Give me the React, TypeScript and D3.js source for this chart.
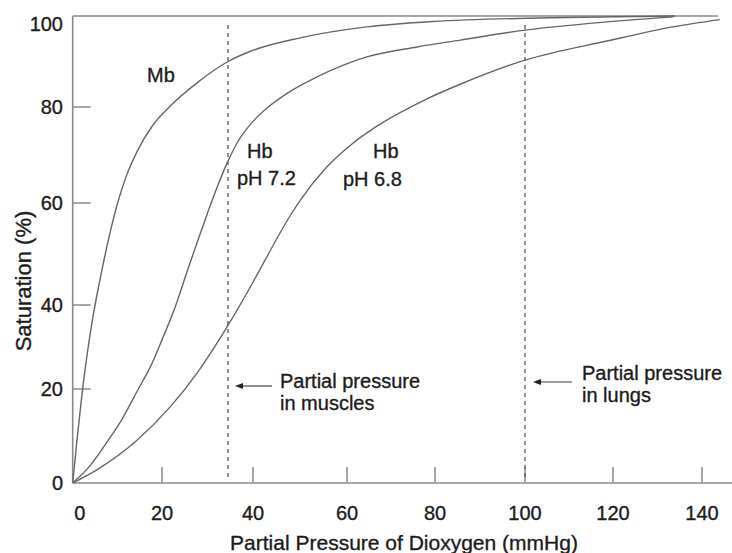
import React from "react";
import * as d3 from "d3";

// ---- Data ----
const xTickValues = [0, 20, 40, 60, 80, 100, 120, 140];
const yTickValues = [0, 20, 40, 60, 80, 100];

const mbPressure = [0, 1, 2.1, 3.2, 4.5, 6, 7.8, 9.9, 12, 14.3, 18, 21.8, 27.7, 34.5, 39.3, 50, 64.5, 79.5, 105.7, 126, 134];
const mbSaturation = [0, 9.5, 19, 28, 37, 44.5, 52, 59.5, 65.6, 70.5, 76.3, 80.2, 85.3, 90, 92.2, 95.2, 97.6, 98.8, 99.6, 99.9, 100];

const hb72Pressure = [0, 4, 7.9, 11, 14.7, 17.5, 20, 22.9, 25.5, 27.7, 30, 32, 34.3, 36.5, 40, 43, 48, 53.6, 64.5, 75.9, 85.6, 100, 118.6, 133.5];
const hb72Saturation = [0, 3.8, 9, 13.5, 20, 25.5, 31.7, 39.5, 46.5, 52.2, 58, 63, 68.3, 72.5, 77, 79.8, 83.5, 86.6, 91, 93.2, 94.7, 96.9, 98.7, 99.8];

const hb68Pressure = [0, 5.4, 14.4, 21.8, 27.7, 34.3, 38.7, 41.5, 47.9, 50, 55.7, 61, 66.8, 78.2, 85.6, 100, 118.6, 133.5, 144];
const hb68Saturation = [0, 2.8, 9.1, 16.2, 23.8, 34.8, 42.4, 47, 57.5, 60.5, 67.5, 72.2, 76, 81.8, 85, 90.3, 94.5, 97.6, 99.2];

const musclePressure = 34.5;
const lungPressure = 100;

const FONT = "'Liberation Sans', Arial, Helvetica, sans-serif";
const TEXT = "#1c1c1c";
const CURVE = "#666";
const AXIS = "#8a8a8a";

export default function App() {
  const W = 732;
  const H = 553;
  // scanned axes are slightly uneven, so map each tick to its drawn position
  const x = d3.scaleLinear().domain(xTickValues).range([72.7, 162, 253, 347, 435, 525, 613, 702]);
  const y = d3.scaleLinear().domain(yTickValues).range([483, 389, 305, 203, 107, 16]);

  const line = d3
    .line<[number, number]>()
    .x((d) => x(d[0]))
    .y((d) => y(d[1]))
    .curve(d3.curveMonotoneX);

  const zip = (a: number[], b: number[]) => a.map((v, i) => [v, b[i]] as [number, number]);

  const series = [
    zip(mbPressure, mbSaturation),
    zip(hb72Pressure, hb72Saturation),
    zip(hb68Pressure, hb68Saturation),
  ];

  const x0 = x(0);
  const yBottom = y(0);
  const yTop = y(100);

  const txt = { fill: TEXT, stroke: TEXT, strokeWidth: 0.35 };

  const arrow = (tipX: number, tailX: number, yy: number) => (
    <g>
      <line x1={tipX + 6} x2={tailX} y1={yy} y2={yy} stroke="#444" strokeWidth={1.2} />
      <path d={`M${tipX},${yy} L${tipX + 8},${yy - 3} L${tipX + 8},${yy + 3} Z`} fill="#222" />
    </g>
  );

  return (
    <svg
      width={W}
      height={H}
      style={{ position: "absolute", left: 0, top: 0, background: "#fff" }}
      fontFamily={FONT}
    >
      <rect width={W} height={H} fill="#fff" />
      {/* frame lines */}
      <line x1={x0} x2={x0} y1={yTop} y2={yBottom} stroke={AXIS} strokeWidth={1.6} />
      <line x1={x0} x2={W} y1={yBottom} y2={yBottom} stroke={AXIS} strokeWidth={1.6} />
      <line x1={x0} x2={718} y1={yTop} y2={yTop} stroke={AXIS} strokeWidth={1.6} />

      {/* x ticks */}
      {xTickValues.map((v, i) => (
        <g key={"xt" + v}>
          {v !== 0 && (
            <line x1={x(v)} x2={x(v)} y1={yBottom} y2={yBottom - 16} stroke={AXIS} strokeWidth={1.5} />
          )}
          <text x={x(v) + (i === 0 ? 7 : 0)} y={520} textAnchor="middle" fontSize={20} {...txt}>
            {v}
          </text>
        </g>
      ))}

      {/* y ticks */}
      {yTickValues.map((v, i) => (
        <g key={"yt" + v}>
          {v !== 0 && v !== 100 && (
            <line x1={x0} x2={x0 + 18} y1={y(v)} y2={y(v)} stroke={AXIS} strokeWidth={1.5} />
          )}
          <text
            x={63}
            y={y(v) + (i === yTickValues.length - 1 ? 10 : 2)}
            textAnchor="end"
            dominantBaseline="middle"
            fontSize={20}
            {...txt}
          >
            {v}
          </text>
        </g>
      ))}

      {/* dashed reference lines */}
      <line x1={x(musclePressure)} x2={x(musclePressure)} y1={25} y2={477} stroke="#555" strokeWidth={1.3} strokeDasharray="4,4" />
      <line x1={x(lungPressure)} x2={x(lungPressure)} y1={25} y2={481} stroke="#555" strokeWidth={1.3} strokeDasharray="4,4" />

      {/* curves */}
      {series.map((s, i) => (
        <path key={"c" + i} d={line(s) || ""} fill="none" stroke={CURVE} strokeWidth={1.4} />
      ))}

      {/* labels */}
      <text x={147} y={82} fontSize={20} {...txt}>Mb</text>
      <text x={247} y={158} fontSize={20} {...txt}>Hb</text>
      <text x={237} y={185} fontSize={20} {...txt}>pH 7.2</text>
      <text x={373} y={158} fontSize={20} {...txt}>Hb</text>
      <text x={343} y={186} fontSize={20} {...txt}>pH 6.8</text>

      <text x={280} y={388} fontSize={20} {...txt}>Partial pressure</text>
      <text x={280} y={410} fontSize={20} {...txt}>in muscles</text>
      {arrow(235, 272, 386)}

      <text x={582} y={380} fontSize={20} {...txt}>Partial pressure</text>
      <text x={582} y={402} fontSize={20} {...txt}>in lungs</text>
      {arrow(533, 572, 382)}

      {/* axis titles */}
      <text x={404} y={550} textAnchor="middle" fontSize={21} {...txt}>
        Partial Pressure of Dioxygen (mmHg)
      </text>
      <text transform="translate(31,281) rotate(-90)" textAnchor="middle" fontSize={22} {...txt}>
        Saturation (%)
      </text>
    </svg>
  );
}
